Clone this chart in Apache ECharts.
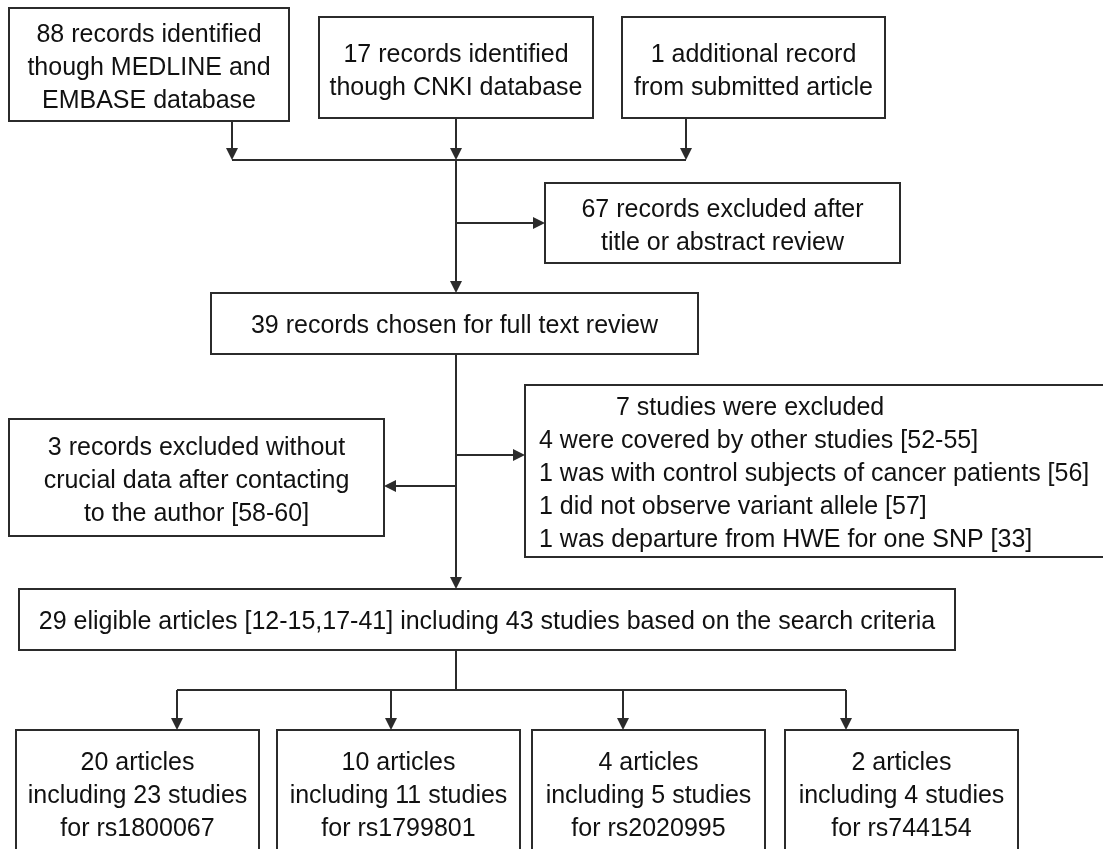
<!DOCTYPE html>
<html>
<head>
<meta charset="utf-8">
<script src="https://cdn.jsdelivr.net/npm/echarts@6/dist/echarts.min.js"></script>
<style>
html,body{margin:0;padding:0;background:#fff;}
#chart{width:1103px;height:849px;}
</style>
</head>
<body>
<div id="chart"></div>
<script>
// ---- content (text of the flow diagram) ----
const identifiedTexts = [
  "88 records identified\nthough MEDLINE and\nEMBASE database",
  "17 records identified\nthough CNKI database",
  "1 additional record\nfrom submitted article"
];
const screenedOutText = "67 records excluded after\ntitle or abstract review";
const fullTextText = "39 records chosen for full text review";
const noDataText = "3 records excluded without\ncrucial data after contacting\nto the author [58-60]";
const excludedHeader = "7 studies were excluded";
const excludedReasons = [
  "4 were covered by other studies [52-55]",
  "1 was with control subjects of cancer patients [56]",
  "1 did not observe variant allele [57]",
  "1 was departure from HWE for one SNP [33]"
];
const eligibleText = "29 eligible articles [12-15,17-41] including 43 studies based on the search criteria";
const snpArticles = [20, 10, 4, 2];
const snpStudies = [23, 11, 5, 4];
const snpNames = ["rs1800067", "rs1799801", "rs2020995", "rs744154"];

// ---- layout (page units, 1 unit = 1 px) ----
const W = 1103, H = 849;
const boxLayout = {
  src0: [9, 8, 289, 121],
  src1: [319, 17, 593, 118],
  src2: [622, 17, 885, 118],
  screened: [545, 183, 900, 263],
  full: [211, 293, 698, 354],
  nodata: [9, 419, 384, 536],
  excluded: [525, 385, 1115, 557],
  eligible: [19, 589, 955, 650],
  snp0: [16, 730, 259, 880],
  snp1: [277, 730, 520, 880],
  snp2: [532, 730, 765, 880],
  snp3: [785, 730, 1018, 880]
};
const srcArrowX = [232, 456, 686];
const trunkX = 456;
const mergeY = 160;
const screenedBranchY = 223;
const excludedBranchY = 455;
const nodataBranchY = 486;
const splitY = 690;
const snpArrowX = [177, 391, 623, 846];

// ---- build boxes ----
const boxes = [];
identifiedTexts.forEach((t, i) => boxes.push({ key: 'src' + i, text: t, dy: 4 }));
boxes.push({ key: 'screened', text: screenedOutText, dy: 4 });
boxes.push({ key: 'full', text: fullTextText, dy: 3 });
boxes.push({ key: 'nodata', text: noDataText, dy: 4 });
boxes.push({ key: 'excluded', text: excludedHeader, list: excludedReasons, dy: 3 });
boxes.push({ key: 'eligible', text: eligibleText, dy: 3 });
snpArticles.forEach((a, i) => boxes.push({
  key: 'snp' + i,
  text: a + ' articles\nincluding ' + snpStudies[i] + ' studies\nfor ' + snpNames[i],
  textCy: 796
}));

const boxData = boxes.map((b, i) => {
  const r = boxLayout[b.key];
  return { value: [r[0], r[1], r[2], r[3], i] };
});

// ---- build connectors ----
const lineSegs = []; // [from, to, arrow]
const L = boxLayout;
srcArrowX.forEach((x, i) => lineSegs.push([[x, L['src' + i][3]], [x, mergeY], true]));
lineSegs.push([[srcArrowX[0], mergeY], [srcArrowX[2], mergeY], false]);
lineSegs.push([[trunkX, mergeY], [trunkX, L.full[1]], true]);
lineSegs.push([[trunkX, screenedBranchY], [L.screened[0], screenedBranchY], true]);
lineSegs.push([[trunkX, L.full[3]], [trunkX, L.eligible[1]], true]);
lineSegs.push([[trunkX, excludedBranchY], [L.excluded[0], excludedBranchY], true]);
lineSegs.push([[trunkX, nodataBranchY], [L.nodata[2], nodataBranchY], true]);
lineSegs.push([[trunkX, L.eligible[3]], [trunkX, splitY], false]);
lineSegs.push([[snpArrowX[0], splitY], [snpArrowX[3], splitY], false]);
snpArrowX.forEach((x, i) => lineSegs.push([[x, splitY], [x, L['snp' + i][1]], true]));

const FONT = '25px "Liberation Sans", Arial, sans-serif';
const LH = 33;
const INK = '#111';
const STROKE = '#2b2b2b';
const ARROW = 12;

// pull the arrowed end back by half the arrow head so its tip meets the target
function endPoint(seg) {
  if (!seg[2]) return seg[1];
  const a = seg[0], b = seg[1];
  const dx = b[0] - a[0], dy = b[1] - a[1];
  const len = Math.sqrt(dx * dx + dy * dy);
  return [b[0] - dx / len * ARROW / 2, b[1] - dy / len * ARROW / 2];
}

const chart = echarts.init(document.getElementById('chart'), null, { renderer: 'canvas' });
chart.setOption({
  backgroundColor: '#fff',
  animation: false,
  grid: { left: 0, right: 0, top: 0, bottom: 0 },
  xAxis: { type: 'value', min: 0, max: W, show: false },
  yAxis: { type: 'value', min: 0, max: H, inverse: true, show: false },
  series: [
    {
      type: 'lines',
      coordinateSystem: 'cartesian2d',
      z: 1,
      symbol: 'none',
      lineStyle: { color: STROKE, width: 2, opacity: 1 },
      data: lineSegs.map(s => ({
        coords: [s[0], endPoint(s)],
        symbol: ['none', s[2] ? 'triangle' : 'none'],
        symbolSize: [9, ARROW]
      }))
    },
    {
      type: 'custom',
      coordinateSystem: 'cartesian2d',
      z: 2,
      data: boxData,
      renderItem: function (params, api) {
        const p0 = api.coord([api.value(0), api.value(1)]);
        const p1 = api.coord([api.value(2), api.value(3)]);
        const b = boxes[api.value(4)];
        const children = [{
          type: 'rect',
          shape: { x: p0[0], y: p0[1], width: p1[0] - p0[0], height: p1[1] - p0[1] },
          style: { fill: '#fff', stroke: STROKE, lineWidth: 2 }
        }];
        const cx = (p0[0] + p1[0]) / 2;
        let cy = (p0[1] + p1[1]) / 2 + (b.dy || 0);
        if (b.textCy) cy = api.coord([0, b.textCy])[1];
        if (b.list) {
          const n = b.list.length + 1;
          const top = cy - (n * LH) / 2 + LH / 2;
          children.push({
            type: 'text',
            style: { text: b.text, x: p0[0] + 91, y: top, align: 'left', verticalAlign: 'middle', font: FONT, fill: INK }
          });
          b.list.forEach((t, i) => children.push({
            type: 'text',
            style: { text: t, x: p0[0] + 14, y: top + (i + 1) * LH, align: 'left', verticalAlign: 'middle', font: FONT, fill: INK }
          }));
        } else {
          children.push({
            type: 'text',
            style: { text: b.text, x: cx, y: cy, align: 'center', verticalAlign: 'middle', font: FONT, lineHeight: LH, fill: INK }
          });
        }
        return { type: 'group', children: children };
      }
    }
  ]
});
</script>
</body>
</html>
